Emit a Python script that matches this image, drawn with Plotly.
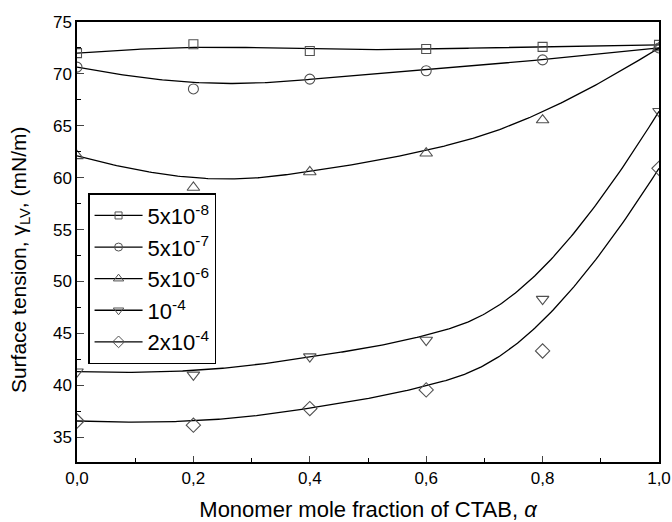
import numpy as np
import plotly.graph_objects as go

alpha = [0.0, 0.2, 0.4, 0.6, 0.8, 1.0]
s_5e8 = [72.0, 72.85, 72.2, 72.4, 72.6, 72.8]
s_5e7 = [70.65, 68.55, 69.5, 70.3, 71.35, 72.5]
s_5e6 = [62.1, 59.05, 60.55, 62.35, 65.55, 72.5]
s_1e4 = [41.3, 41.0, 42.75, 44.35, 48.3, 66.4]
s_2e4 = [36.55, 36.15, 37.75, 39.55, 43.3, 60.9]

names = ["5x10<sup>-8</sup>", "5x10<sup>-7</sup>", "5x10<sup>-6</sup>",
         "10<sup>-4</sup>", "2x10<sup>-4</sup>"]
series = [s_5e8, s_5e7, s_5e6, s_1e4, s_2e4]
symbols = ["square-open", "circle-open", "triangle-up-open",
           "triangle-down-open", "diamond-open"]
msizes = [9, 10, 11, 11, 11]


def bspline(px, py, n=300, k=3):
    # clamped uniform cubic B-spline using data points as control points
    px = np.asarray(px, float)
    py = np.asarray(py, float)
    m = len(px)
    inner = np.linspace(0, 1, m - k + 1)
    knots = np.concatenate([[0] * k, inner, [1] * k])
    ts = np.linspace(0, 1, n)
    ts[-1] = 1 - 1e-12

    def basis(i, p, t):
        if p == 0:
            return 1.0 if knots[i] <= t < knots[i + 1] else 0.0
        a = 0.0
        d1 = knots[i + p] - knots[i]
        if d1 > 0:
            a += (t - knots[i]) / d1 * basis(i, p - 1, t)
        d2 = knots[i + p + 1] - knots[i + 1]
        if d2 > 0:
            a += (knots[i + p + 1] - t) / d2 * basis(i + 1, p - 1, t)
        return a

    xs, ys = [], []
    for t in ts:
        b = np.array([basis(i, k, t) for i in range(m)])
        xs.append(float(b @ px))
        ys.append(float(b @ py))
    return xs, ys


MC = "#505050"
fig = go.Figure()
for nm, ys, sym, ms in zip(names, series, symbols, msizes):
    cx, cy = bspline(alpha, ys)
    fig.add_trace(go.Scatter(x=cx, y=cy, mode="lines",
                             line=dict(color="black", width=1.3),
                             showlegend=False, hoverinfo="skip"))
    fig.add_trace(go.Scatter(x=alpha, y=ys, mode="markers", name=nm,
                             marker=dict(symbol=sym, size=ms, color=MC,
                                         line=dict(color=MC, width=1.1)),
                             showlegend=False))
    # legend entry (line + marker)
    fig.add_trace(go.Scatter(x=[None], y=[None], mode="lines+markers", name=nm,
                             line=dict(color="black", width=1.3),
                             marker=dict(symbol=sym, size=ms - 2, color=MC,
                                         line=dict(color=MC, width=1.0))))

fig.update_layout(
    width=672, height=522,
    margin=dict(l=77, r=13, t=22, b=60),
    plot_bgcolor="white", paper_bgcolor="white",
    separators=",.",
    font=dict(family="Liberation Sans, Arial", color="black", size=17),
    legend=dict(x=0.019, y=0.611, xanchor="left", yanchor="top",
                bordercolor="black", borderwidth=1.5, bgcolor="white",
                font=dict(size=22), itemwidth=48, tracegroupgap=0),
    xaxis=dict(range=[0, 1], tickvals=[0, 0.2, 0.4, 0.6, 0.8, 1.0],
               tickformat=".1f", ticks="inside", ticklen=6, tickwidth=1.3,
               showline=True, linecolor="black", linewidth=1.5, mirror=True,
               showgrid=False, zeroline=False, automargin=False,
               minor=dict(tickvals=[0.1, 0.3, 0.5, 0.7, 0.9], ticks="inside",
                          ticklen=4, tickcolor="black", tickwidth=1.3),
               title=dict(text="Monomer mole fraction of CTAB, <i>α</i>",
                          font=dict(size=22), standoff=14)),
    yaxis=dict(range=[32.6, 75], tickvals=[35, 40, 45, 50, 55, 60, 65, 70, 75],
               ticks="inside", ticklen=7, tickwidth=1.3,
               showline=True, linecolor="black", linewidth=1.5, mirror=True,
               showgrid=False, zeroline=False, automargin=False,
               minor=dict(tickvals=[37.5, 42.5, 47.5, 52.5, 57.5, 62.5, 67.5, 72.5],
                          ticks="inside", ticklen=4, tickcolor="black", tickwidth=1.3)),
    annotations=[dict(text="Surface tension, γ<sub>LV</sub>, (mN/m)",
                      textangle=-90, xref="paper", yref="paper",
                      x=-0.098, y=0.461, xanchor="center", yanchor="middle",
                      showarrow=False, font=dict(size=21))],
)

fig.write_html("out.html")
